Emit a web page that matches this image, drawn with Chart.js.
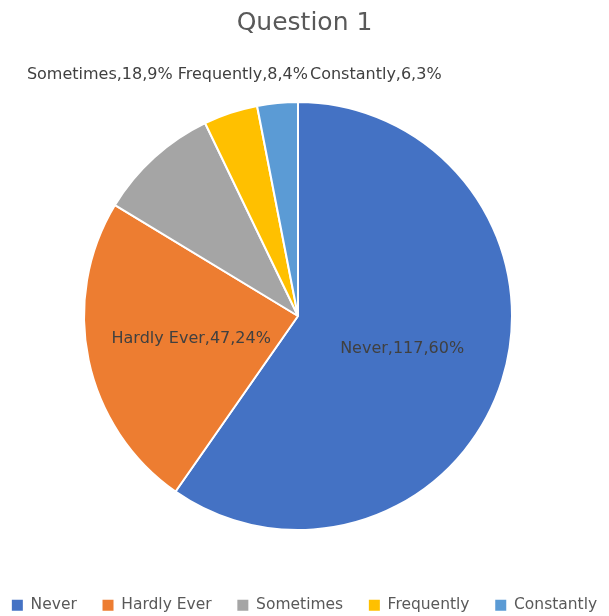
<!DOCTYPE html>
<html>
<head>
<meta charset="utf-8">
<script src="https://cdn.jsdelivr.net/npm/chart.js@4"></script>
<style>
  html, body { margin: 0; padding: 0; background: #fff; }
  #wrap { width: 609px; height: 616px; }
</style>
</head>
<body>
<div id="wrap"><canvas id="myChart1"></canvas></div>
<script>
  // Provided data
  const categories = ['Never', 'Hardly Ever', 'Sometimes', 'Frequently', 'Constantly'];
  const counts = [117, 47, 18, 8, 6];
  const percents = [60, 24, 9, 4, 3];
  const sliceColors = ['#4472C4', '#ED7D31', '#A5A5A5', '#FFC000', '#5B9BD5'];

  const fontFamily = '"DejaVu Sans", "Noto Sans", sans-serif';

  // pie position/size as in the original Excel chart
  const pieCenterX = 298;
  const pieCenterY = 316;
  const pieRadius = 215;

  const pieArea = {
    id: 'pieArea',
    afterLayout(chart) {
      const a = chart.chartArea;
      a.left = pieCenterX - pieRadius;
      a.right = pieCenterX + pieRadius;
      a.top = pieCenterY - pieRadius;
      a.bottom = pieCenterY + pieRadius;
      a.width = a.right - a.left;
      a.height = a.bottom - a.top;
    }
  };

  // data labels "Name,count,pct%"
  const sliceLabels = {
    id: 'sliceLabels',
    afterDatasetsDraw(chart) {
      const ctx = chart.ctx;
      const meta = chart.getDatasetMeta(0);
      ctx.save();
      ctx.font = '16px ' + fontFamily;
      ctx.fillStyle = '#404040';
      ctx.textBaseline = 'middle';
      const outside = [];
      meta.data.forEach((arc, i) => {
        const text = categories[i] + ',' + counts[i] + ',' + percents[i] + '%';
        if (percents[i] >= 20) {
          const mid = (arc.startAngle + arc.endAngle) / 2;
          const d = arc.outerRadius * 0.51;
          ctx.textAlign = 'center';
          ctx.fillText(text, arc.x + Math.cos(mid) * d, arc.y + Math.sin(mid) * d);
        } else {
          outside.push({ text, arc });
        }
      });
      // small slices: one row above the pie, packed right to left
      if (outside.length) {
        const arc0 = outside[0].arc;
        const y = arc0.y - arc0.outerRadius - 27;
        let right = arc0.x + 12;
        ctx.textAlign = 'left';
        for (let k = outside.length - 1; k >= 0; k--) {
          const w = ctx.measureText(outside[k].text).width;
          if (k === outside.length - 1) {
            ctx.fillText(outside[k].text, right, y);
            right = right - 2;
          } else {
            ctx.fillText(outside[k].text, right - w, y);
            right = right - w - 5;
          }
        }
      }
      ctx.restore();
    }
  };

  const config1 = {
    type: 'pie',
    data: {
      labels: categories,
      datasets: [{
        data: counts,
        backgroundColor: sliceColors,
        borderColor: '#ffffff',
        borderWidth: 2
      }]
    },
    options: {
      responsive: true,
      maintainAspectRatio: false,
      animation: false,
      layout: { padding: { top: 0, left: 0, right: 0, bottom: -7 } },
      plugins: {
        title: {
          display: true,
          text: 'Question 1',
          color: '#595959',
          font: { family: fontFamily, size: 25, weight: 'normal' },
          padding: { top: 8, bottom: 3 }
        },
        legend: {
          display: true,
          position: 'bottom',
          labels: {
            color: '#595959',
            font: { family: fontFamily, size: 15.5 },
            boxWidth: 11,
            boxHeight: 11,
            padding: 6,
            generateLabels(chart) {
              const items = Chart.controllers.pie.overrides.plugins.legend.labels.generateLabels(chart);
              items.forEach((it, i) => {
                it.lineWidth = 0;
                if (i < items.length - 1) it.text = it.text + '    ';
              });
              return items;
            }
          }
        },
        tooltip: { enabled: false }
      }
    },
    plugins: [pieArea, sliceLabels]
  };

  const ctx = document.getElementById('myChart1').getContext('2d');
  const myChart1 = new Chart(ctx, config1);
</script>
</body>
</html>
